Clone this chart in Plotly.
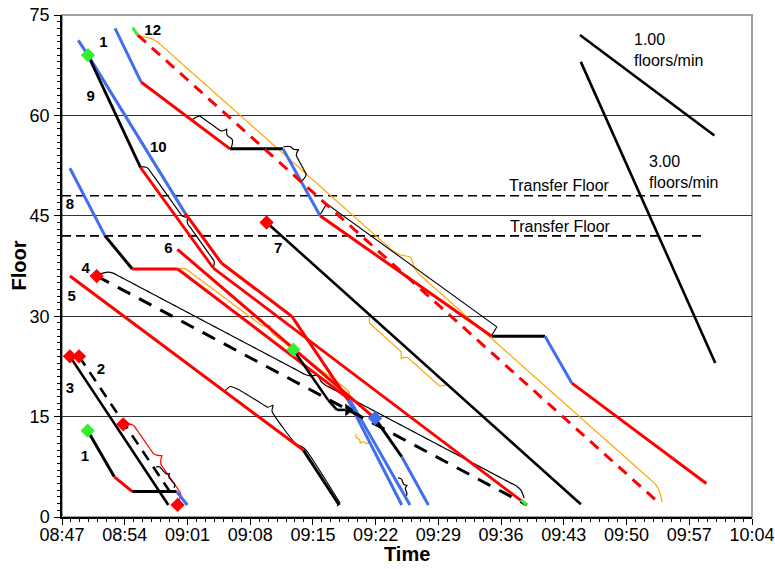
import math
import plotly.graph_objects as go

DAY = "2024-01-01 "

# ---------------- data (time, floor) ----------------
tick_labels = ["08:47", "08:54", "09:01", "09:08", "09:15", "09:22", "09:29",
               "09:36", "09:43", "09:50", "09:57", "10:04"]
floor_ticks = [0, 15, 30, 45, 60, 75]
transfer_floors = [48, 42]
transfer_span = ["08:47:00", "09:58:23"]

# run 10
r10_t = ["08:52:55", "08:55:49", "09:05:45", "09:11:40", "09:15:48", "09:34:57", "09:40:54", "09:43:54", "09:58:54"]
r10_f = [73, 65, 55, 55, 45, 27, 27, 20, 5]
r10_c = ["blue", "red", "black", "blue", "red", "black", "blue", "red"]

# run 12 (dashed)
r12_t = ["08:54:53", "08:55:27", "09:53:17"]
r12_f = [73.1, 72, 2.5]
r12_c = ["green", "red"]

# run 7
r7_t = ["09:09:50", "09:44:54"]
r7_f = [44, 1.9]
r7_c = ["black"]

# run 1 (top)
r1_t = ["08:48:49", "08:49:54", "09:00:44", "09:04:49", "09:12:38", "09:18:55", "09:24:55"]
r1_f = [71.2, 69, 45.4, 37.9, 30, 17.5, 1.8]
r1_c = ["blue", "blue", "red", "red", "red", "blue"]

# run 9
r9_t = ["08:49:54", "08:55:46", "09:03:53", "09:38:52"]
r9_f = [69, 52.2, 37.2, 1.8]
r9_c = ["black", "red", "red"]

# run 8
r8_t = ["08:47:53", "08:51:48", "08:54:51", "08:59:55", "09:19:08", "09:25:50"]
r8_f = [52.1, 42, 37.05, 37.05, 17.5, 1.8]
r8_c = ["blue", "black", "red", "red", "blue"]

# run 6
r6_t = ["08:59:52", "09:21:56", "09:24:55", "09:27:53"]
r6_f = [40, 14.75, 9, 1.8]
r6_c = ["red", "black", "blue"]

# transfer walk with arrow
rw_t = ["09:12:49", "09:16:41", "09:17:41", "09:18:35"]
rw_f = [25, 17.5, 16, 16]
rw_c = ["black", "black", "black"]
arrow_t = ["09:18:55"]
arrow_f = [16]

# run 4 (dashed)
r4_t = ["08:50:52", "09:38:52"]
r4_f = [36, 1.8]
r4_c = ["black"]

# run 5
r5_t = ["08:47:53", "09:13:56", "09:17:56"]
r5_f = [36, 10, 1.8]
r5_c = ["red", "black"]

# run 3
r3_t = ["08:47:53", "08:58:52"]
r3_f = [24, 1.8]
r3_c = ["black"]

# run 2 (dashed)
r2_t = ["08:48:54", "08:59:23"]
r2_f = [24, 3.1]
r2_c = ["black"]

# run 1 (bottom)
r1b_t = ["08:49:52", "08:52:50", "08:54:51", "08:59:48", "09:00:59"]
r1b_f = [12.9, 6.0, 3.8, 3.8, 1.8]
r1b_c = ["black", "red", "black", "blue"]

# green end tick of run 9
r9end_t = ["09:38:13", "09:38:52"]
r9end_f = [2.54, 1.8]

# speed reference lines
speed1_t = ["09:44:48", "09:59:48"]
speed1_f = [72, 57]
speed3_t = ["09:44:54", "09:59:54"]
speed3_f = [68, 23]

# markers
red_marks_t = ["08:50:52", "08:47:53", "08:48:54", "08:53:50", "08:59:54", "09:09:50"]
red_marks_f = [36, 24, 24, 13.85, 1.8, 44]
green_marks_t = ["08:49:54", "08:49:52", "09:12:49"]
green_marks_f = [69, 12.9, 25]
blue_marks_t = ["09:21:56"]
blue_marks_f = [14.75]

# run labels
lbl_text = ["1", "12", "9", "10", "8", "6", "4", "5", "7", "3", "2", "1"]
lbl_t = ["08:51:37", "08:57:07", "08:50:12", "08:57:45", "08:47:53", "08:58:52", "08:49:38", "08:48:05", "09:11:08", "08:47:53", "08:51:21", "08:49:34"]
lbl_f = [70.8, 72.6, 62.7, 55.1, 46.6, 40.0, 37.0, 32.9, 40.0, 19.1, 21.9, 8.9]

# braces: (start time, start floor, end time, end floor)
braceO1 = ["08:55:27", 71.8, "09:53:58", 2.24]
braceA = ["08:55:49", 52.3, "09:03:51", 37.2]
braceB = ["09:01:29", 59.3, "09:05:52", 55.1]
braceC = ["09:11:43", 55.3, "09:13:47", 50.2]
braceE = ["08:51:14", 36.3, "09:38:34", 2.84]
braceG = ["08:53:50", 13.85, "08:59:56", 2.1]
braceH = ["08:57:29", 7.47, "08:59:30", 4.33]
braceI = ["09:24:30", 5.83, "09:25:17", 2.99]
braceJ = ["09:19:49", 12.4, "09:21:22", 11.2]
braceK = ["09:21:22", 30.1, "09:29:56", 19.8]
braceL = ["08:59:55", 37.05, "09:19:08", 17.8]

# hand-traced bracket shapes
bracketD_t = ["09:15:47", "09:16:32", "09:35:31", "09:34:57"]
bracketD_f = [45.1, 46.8, 28.4, 27.1]
bracketF_t = ["09:05:11", "09:05:45", "09:06:38", "09:09:19", "09:09:59", "09:10:33", "09:10:26", "09:13:07", "09:13:47", "09:14:14", "09:17:41", "09:18:01", "09:17:41"]
bracketF_f = [18.8, 19.5, 19.1, 16.9, 16.4, 16.7, 15.8, 10.9, 10.5, 10.0, 2.84, 2.09, 1.64]

COL = {"red": "#ff0000", "blue": "#3f6fee", "black": "#000000", "green": "#33ee33", "orange": "#ffa500"}
FONT = "Liberation Sans, Arial, sans-serif"


def to_min(s):
    h, m, sec = [int(v) for v in s.split(":")]
    return h * 60 + m + sec / 60.0


def from_min(v):
    tot = round(v * 60)
    h, r = divmod(tot, 3600)
    m, s = divmod(r, 60)
    return "%02d:%02d:%02d" % (h, m, s)


def ts(lst):
    return [DAY + s for s in lst]


# screen aspect (px per minute, px per floor) used only to shape the brace glyphs
SX, SY = 690 / 77.0, 502 / 75.0


def brace_pts(spec, side=1, body=6, tip=11, curl=8, tippos=0.5, n=80):
    t0, f0, t1, f1 = spec
    x0, y0 = to_min(t0) * SX, f0 * SY
    x1, y1 = to_min(t1) * SX, f1 * SY
    dx, dy = x1 - x0, y1 - y0
    L = math.hypot(dx, dy)
    ux, uy = dx / L, dy / L
    nx, ny = -uy * side, ux * side
    m = tippos * L
    xs, ys = [], []
    for i in range(n + 1):
        s = L * i / n
        if s <= m:
            q, half = s, m
        else:
            q, half = L - s, L - m
        c = min(curl, half / 2)
        off = body * (1 - (1 - min(q / c, 1)) ** 2)
        if q > half - c:
            off += (tip - body) * ((q - (half - c)) / c) ** 2
        px = x0 + ux * s + nx * off
        py = y0 + uy * s + ny * off
        xs.append(DAY + from_min(px / SX))
        ys.append(py / SY)
    return xs, ys


fig = go.Figure()


def add_run(t, f, cols, dash="solid", width=3):
    tt = ts(t)
    for i, c in enumerate(cols):
        fig.add_trace(go.Scatter(x=tt[i:i + 2], y=f[i:i + 2], mode="lines",
                                 line=dict(color=COL[c], width=width, dash=dash),
                                 showlegend=False, hoverinfo="skip"))


def add_thin(xs, ys, color, width=1.2):
    fig.add_trace(go.Scatter(x=xs, y=ys, mode="lines", line=dict(color=COL[color], width=width, shape="spline", smoothing=0.6),
                             showlegend=False, hoverinfo="skip"))


# transfer floors
for tf in transfer_floors:
    fig.add_trace(go.Scatter(x=ts(transfer_span), y=[tf, tf], mode="lines",
                             line=dict(color="black", width=1.6, dash="9px,5px"),
                             showlegend=False, hoverinfo="skip"))

# braces (thin)
add_thin(*brace_pts(braceO1, side=1, body=9, tip=16, curl=20), "orange")
add_thin(*brace_pts(braceA, side=1, body=5, tip=9, curl=6, tippos=0.55), "black")
add_thin(*brace_pts(braceB, side=1, body=8, tip=13, curl=5, tippos=0.7), "black")
add_thin(*brace_pts(braceC, side=1, body=7, tip=12, curl=5, tippos=0.25), "black")
add_thin(*brace_pts(braceE, side=1, body=7, tip=12, curl=12), "black")
add_thin(*brace_pts(braceG, side=1, body=8, tip=14, curl=8), "red")
add_thin(*brace_pts(braceH, side=1, body=3, tip=6, curl=3), "black")
add_thin(*brace_pts(braceI, side=1, body=3, tip=6, curl=3), "black")
add_thin(*brace_pts(braceJ, side=-1, body=3, tip=6, curl=3), "orange")
add_thin(*brace_pts(braceK, side=-1, body=6, tip=11, curl=6), "orange")
add_thin(*brace_pts(braceL, side=1, body=5, tip=10, curl=8), "orange")
fig.add_trace(go.Scatter(x=ts(bracketD_t), y=bracketD_f, mode="lines", line=dict(color="black", width=1.1),
                         showlegend=False, hoverinfo="skip"))
fig.add_trace(go.Scatter(x=ts(bracketF_t), y=bracketF_f, mode="lines", line=dict(color="black", width=1.1, shape="spline", smoothing=0.5),
                         showlegend=False, hoverinfo="skip"))

add_run(r10_t, r10_f, r10_c)
add_run(r12_t, r12_f, r12_c, dash="11px,8px")
add_run(r7_t, r7_f, r7_c, width=2.6)
add_run(r1_t, r1_f, r1_c)
add_run(r9_t, r9_f, r9_c, width=2.8)
add_run(r8_t, r8_f, r8_c)
add_run(r6_t, r6_f, r6_c)
add_run(rw_t, rw_f, rw_c, width=2.6)
add_run(r4_t, r4_f, r4_c, dash="14px,10px", width=3)
add_run(r5_t, r5_f, r5_c)
add_run(r3_t, r3_f, r3_c, width=2.6)
add_run(r2_t, r2_f, r2_c, dash="11px,8px", width=2.6)
add_run(r1b_t, r1b_f, r1b_c)
add_run(r9end_t, r9end_f, ["green"], width=3)
add_run(speed1_t, speed1_f, ["black"], width=2.6)
add_run(speed3_t, speed3_f, ["black"], width=2.6)

fig.add_trace(go.Scatter(x=ts(arrow_t), y=arrow_f, mode="markers",
                         marker=dict(symbol="triangle-right", size=11, color="black"),
                         showlegend=False, hoverinfo="skip"))
for mt, mf, c in [(red_marks_t, red_marks_f, "red"), (green_marks_t, green_marks_f, "green"),
                  (blue_marks_t, blue_marks_f, "blue")]:
    fig.add_trace(go.Scatter(x=ts(mt), y=mf, mode="markers",
                             marker=dict(symbol="diamond", size=11, color=COL[c]),
                             showlegend=False, hoverinfo="skip"))

fig.add_trace(go.Scatter(x=ts(lbl_t), y=lbl_f, mode="text", text=lbl_text,
                         textfont=dict(family=FONT, size=15, color="black"),
                         texttemplate="<b>%{text}</b>", showlegend=False, hoverinfo="skip"))

# text annotations
for t, f, s in [("09:50:34", 69.8, "1.00<br>floors/min"), ("09:52:17", 51.5, "3.00<br>floors/min")]:
    fig.add_annotation(x=DAY + t, y=f, text=s, showarrow=False, xanchor="left", yanchor="middle",
                       align="left", font=dict(family=FONT, size=16, color="black"))
for t, f in [("09:48:20", 49.6), ("09:48:29", 43.4)]:
    fig.add_annotation(x=DAY + t, y=f, text="Transfer Floor", showarrow=False, xanchor="right",
                       yanchor="middle", font=dict(family=FONT, size=16, color="black"))

# axis titles
fig.add_annotation(x=0.5, y=-0.0737, xref="paper", yref="paper", text="<b>Time</b>", showarrow=False,
                   xanchor="center", yanchor="middle", font=dict(family=FONT, size=20, color="black"))
fig.add_annotation(x=-0.063, y=0.5, xref="paper", yref="paper", text="<b>Floor</b>", showarrow=False,
                   xanchor="center", yanchor="middle", textangle=-90, font=dict(family=FONT, size=20, color="black"))

fig.update_layout(
    width=775, height=569,
    margin=dict(l=62, r=23, t=15, b=52),
    paper_bgcolor="white", plot_bgcolor="white",
    font=dict(family=FONT, size=18, color="black"),
    shapes=[dict(type="rect", xref="paper", yref="paper", x0=0, y0=0, x1=1, y1=1,
                 line=dict(color="#a0a0a0", width=2), layer="below")],
)
fig.update_xaxes(
    type="date", range=[DAY + "08:47", DAY + "10:04"], automargin=False,
    tickmode="array", tickvals=[DAY + s for s in tick_labels], ticktext=tick_labels,
    ticks="outside", ticklen=6, tickcolor="black", showline=True, linecolor="black", linewidth=1.5,
    showgrid=False, zeroline=False, ticklabelstandoff=-5,
    minor=dict(dtick=60000, tick0=DAY + "08:47", ticks="outside", ticklen=3, tickcolor="black", showgrid=False),
    tickfont=dict(size=18),
)
fig.update_yaxes(
    range=[0, 75], tickvals=floor_ticks, ticks="outside", ticklen=6, tickcolor="black", automargin=False,
    showline=True, linecolor="black", linewidth=1.5, showgrid=True, gridcolor="#333333", gridwidth=1,
    zeroline=False, ticklabelstandoff=1,
    minor=dict(dtick=1, ticks="outside", ticklen=3, tickcolor="black", showgrid=False),
    tickfont=dict(size=18),
)

fig.write_html("out.html")
